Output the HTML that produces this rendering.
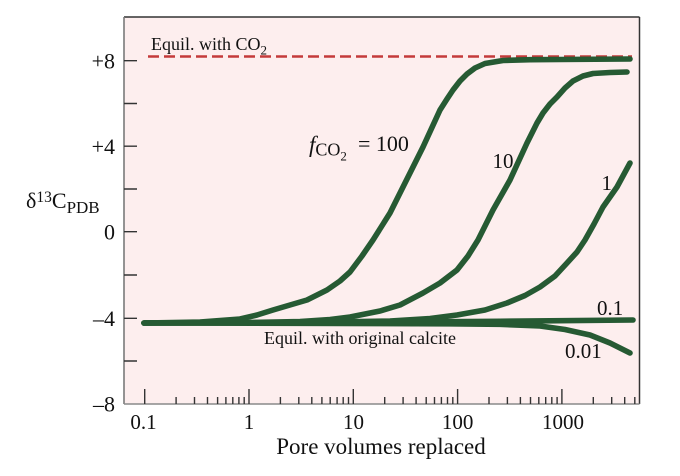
<!DOCTYPE html>
<html>
<head>
<meta charset="utf-8">
<style>
html,body{margin:0;padding:0;background:#fff;}
svg{display:block;}
text{font-family:"Liberation Serif","Times New Roman",serif;fill:#111;}
</style>
</head>
<body>
<svg width="680" height="476" viewBox="0 0 680 476" xmlns="http://www.w3.org/2000/svg">
  <!-- plot background -->
  <rect x="124" y="17" width="515.5" height="387" fill="#fdeeee"/>
  <!-- frame -->
  <line x1="124" y1="17" x2="639.5" y2="17" stroke="#333" stroke-width="1.5"/>
  <line x1="639.5" y1="17" x2="639.5" y2="404" stroke="#333" stroke-width="1.5"/>
  <line x1="124" y1="17" x2="124" y2="404" stroke="#7a7a7a" stroke-width="1.6"/>
  <line x1="124" y1="404" x2="639.5" y2="404" stroke="#8a8a8a" stroke-width="1.6"/>

  <!-- y ticks -->
  <path d="M124 60.7H137 M124 103.5H137 M124 146.2H137 M124 189H137 M124 231.7H137 M124 275H137 M124 318.3H137 M124 361H137" stroke="#333" stroke-width="1.4" fill="none"/>

  <!-- x major ticks -->
  <path d="M144.7 404V389 M249 404V389 M353.3 404V389 M457.6 404V389 M561.9 404V389" stroke="#333" stroke-width="1.4" fill="none"/>
  <!-- x minor ticks -->
  <path d="M176.1 404V397 M194.5 404V397 M207.5 404V397 M217.6 404V397 M225.9 404V397 M232.8 404V397 M238.9 404V397 M244.2 404V397
           M280.4 404V397 M298.8 404V397 M311.8 404V397 M321.9 404V397 M330.2 404V397 M337.1 404V397 M343.2 404V397 M348.5 404V397
           M384.7 404V397 M403.1 404V397 M416.1 404V397 M426.2 404V397 M434.5 404V397 M441.4 404V397 M447.5 404V397 M452.8 404V397
           M489 404V397 M507.4 404V397 M520.4 404V397 M530.5 404V397 M538.8 404V397 M545.7 404V397 M551.8 404V397 M557.1 404V397
           M593.3 404V397 M611.7 404V397 M624.7 404V397 M634.8 404V397" stroke="#333" stroke-width="1.4" fill="none"/>

  <!-- dashed equilibrium line -->
  <line x1="148" y1="56.5" x2="632" y2="56.5" stroke="#c43a3a" stroke-width="2.4" stroke-dasharray="11 5"/>

  <!-- curves -->
  <g fill="none" stroke="#265a33" stroke-width="5.6" stroke-linecap="round" stroke-linejoin="round">
    <!-- 0.01 -->
    <polyline points="144,323 300,323.3 450,323.8 500,324.3 540,326 565,329.5 590,335 610,343 630,353"/>
    <!-- 0.1 -->
    <polyline points="144,323 300,322.8 400,322 500,321.3 633,320"/>
    <!-- 1 -->
    <polyline points="144,323 300,322.5 390,321 430,318.5 457,315 485,310 507,303 525,295.5 540,287 555,276 567,263 577,252 585,240 594,224 603,207 617,187 630,163"/>
    <!-- 10 -->
    <polyline points="144,323 250,322.5 300,321.5 330,319.5 350,317 380,311 400,305 423,293 440,283 457,270 468,256 478,240 493,210 510,180 527,143 537,123 543,113 550,104 557,97 565,88 573,81 583,76 593,73.5 610,72.5 627,72"/>
    <!-- 100 -->
    <polyline points="144,323 200,322 240,319 257,315 273,310 290,305 307,300 327,290 340,281 350,272 362,256 373,240 390,213 410,173 423,147 440,110 447,99 453,90 460,81 467,74 475,68 485,63.5 503,60.5 530,59.7 560,59.5 630,59"/>
  </g>

  <!-- y tick labels -->
  <g font-size="22" text-anchor="end">
    <text x="115" y="68.5">+8</text>
    <text x="115" y="154">+4</text>
    <text x="115" y="239.5">0</text>
    <text x="115" y="326">–4</text>
    <text x="115" y="411.5">–8</text>
  </g>

  <!-- x tick labels -->
  <g font-size="21" text-anchor="middle">
    <text x="143.5" y="429">0.1</text>
    <text x="249" y="429">1</text>
    <text x="353.5" y="429">10</text>
    <text x="457.6" y="429">100</text>
    <text x="563" y="429">1000</text>
  </g>

  <!-- axis titles -->
  <text x="381" y="454" font-size="23" text-anchor="middle">Pore volumes replaced</text>
  <text x="26" y="208" font-size="22">δ<tspan font-size="15.5" dy="-6">13</tspan><tspan dy="6">C</tspan><tspan font-size="17" dy="5">PDB</tspan></text>

  <!-- annotations -->
  <text x="151" y="50" font-size="18">Equil. with CO<tspan font-size="13" dy="4.5">2</tspan></text>

  <text x="264" y="344" font-size="18">Equil. with original calcite</text>

  <text x="309" y="152" font-size="23"><tspan font-style="italic">f</tspan><tspan font-size="18" dy="3.5">CO</tspan><tspan font-size="13" dy="5">2</tspan></text>
  <text x="358" y="151" font-size="22">= 100</text>

  <text x="492.5" y="168" font-size="21">10</text>
  <text x="601.5" y="190" font-size="21">1</text>
  <text x="597" y="315" font-size="21">0.1</text>
  <text x="565" y="358" font-size="21">0.01</text>
</svg>
</body>
</html>
